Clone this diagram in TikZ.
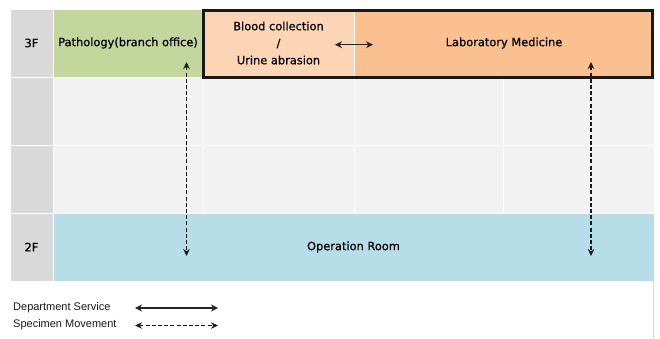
\documentclass[tikz,border=0pt]{standalone}
\usepackage{fontspec}
\setmainfont[FakeBold=0.6]{DejaVu Sans}
\newfontfamily\legendfont{Liberation Sans}
\usetikzlibrary{arrows.meta}

\definecolor{floorgray}{HTML}{D9D9D9}
\definecolor{emptycell}{HTML}{F2F2F2}
\definecolor{pathgreen}{HTML}{C3D69B}
\definecolor{bloodpeach}{HTML}{FCD5B4}
\definecolor{labpeach}{HTML}{FAC090}
\definecolor{oproom}{HTML}{B7DDE8}
\definecolor{edgegray}{HTML}{D8D8D8}

\begin{document}
\begin{tikzpicture}[x=1pt,y=-1pt,
  cell/.style={draw=white, line width=1pt, inner sep=0pt, outer sep=0pt,
    anchor=north west, align=center, text=black,
    font=\fontsize{11.4}{17}\selectfont},
  service/.style={{Stealth[length=7pt,width=7pt]}-{Stealth[length=7pt,width=7pt]},
    line width=1.4pt, draw=black!85},
  specimen/.style={{Stealth[length=7pt,width=6.5pt]}-{Stealth[length=7pt,width=6.5pt]},
    line width=1.3pt, draw=black!90, dash pattern=on 4pt off 2.2pt},
  legendtext/.style={anchor=west, inner sep=0pt, text=black!90,
    font=\legendfont\fontsize{11}{12}\selectfont}]

\useasboundingbox (0,0) rectangle (660,338);

% floor labels
\node[cell, fill=floorgray, minimum width=43pt, minimum height=68pt] (f3) at (10,9) {3F};
\node[cell, fill=floorgray, minimum width=43pt, minimum height=68pt] (fa) at (10,77) {};
\node[cell, fill=floorgray, minimum width=43pt, minimum height=68pt] (fb) at (10,145) {};
\node[cell, fill=floorgray, minimum width=43pt, minimum height=68pt] (f2) at (10,213) {2F};

% 3rd floor departments
\node[cell, fill=pathgreen, minimum width=150pt, minimum height=68pt] (path) at (53,9) {Pathology(branch office)};
\node[cell, fill=bloodpeach, minimum width=151pt, minimum height=68pt] (blood) at (203,9) {Blood collection\\/\\Urine abrasion};
\node[cell, fill=labpeach, minimum width=300pt, minimum height=68pt] (lab) at (354,9) {Laboratory Medicine};

% empty grid between floors
\foreach \r/\y in {a/77, b/145} {
  \foreach \c/\x/\w in {1/53/150, 2/203/151, 3/354/149, 4/503/151} {
    \node[cell, fill=emptycell, minimum width=\w pt, minimum height=68pt] (g\r\c) at (\x,\y) {};
  }
}

% 2nd floor
\node[cell, fill=oproom, minimum width=601pt, minimum height=68pt] (op) at (53,213) {Operation Room};

% frame around the laboratory block
\draw[line width=3pt, draw=black!90] (203.5,10.5) rectangle (652.5,77.5);

% right edge below the table
\draw[edgegray, line width=1pt] (653.5,281) -- (653.5,338);

% connectors
\coordinate (svcL) at (335,44.7);
\coordinate (svcR) at (373,44.7);
\draw[service] (svcL) -- (svcR);

\coordinate (pathUp) at (186.5,62);
\coordinate (pathDown) at (186.5,256);
\draw[specimen] (pathUp) -- (pathDown);

\coordinate (labUp) at (591,62);
\coordinate (labDown) at (591,256);
\draw[specimen] (labUp) -- (labDown);

% legend
\node[legendtext] (lgService) at (13,308) {Department Service};
\node[legendtext] (lgSpecimen) at (13,325) {Specimen Movement};
\coordinate (lsL) at (135,308);
\coordinate (lsR) at (218,308);
\coordinate (lmL) at (135,325.5);
\coordinate (lmR) at (218,325.5);
\draw[service] (lsL) -- (lsR);
\draw[specimen] (lmL) -- (lmR);

\end{tikzpicture}
\end{document}
